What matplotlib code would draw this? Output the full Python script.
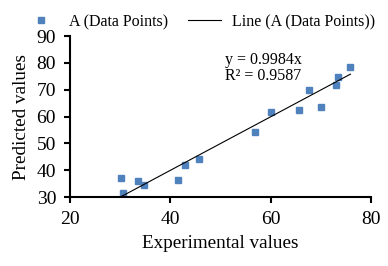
import numpy as np
import matplotlib.pyplot as plt

# values
experimental = [30.2, 30.6, 33.6, 34.8, 41.6, 43.0, 45.8, 56.9, 60.1, 65.7, 67.7, 70.1, 73.1, 73.5, 75.9]
predicted = [37.2, 31.6, 36.1, 34.3, 36.5, 42.0, 44.3, 54.3, 61.8, 62.5, 70.0, 63.7, 71.9, 74.8, 78.6]
slope = 0.9984
r_squared = 0.9587
x_ticks = [20, 40, 60, 80]
y_ticks = [30, 40, 50, 60, 70, 80, 90]

plt.rcParams['font.family'] = ['Liberation Serif', 'DejaVu Serif']

fig = plt.figure(figsize=(3.88, 2.66), dpi=100)
ax = fig.add_axes([70 / 388, 1 - 197 / 266, 301 / 388, 161 / 266])

x = np.array(experimental)
ax.plot(x, predicted, 's', color='#4F81BD', markersize=3.8, label='A (Data Points)')
xl = np.array([x.min(), x.max()])
ax.plot(xl, slope * xl, '-', color='black', linewidth=0.8, label='Line (A (Data Points))')

ax.text(50.8, 84.2, f'y = {slope}x\nR\u00b2 = {r_squared}', fontsize=11.5,
        va='top', ha='left', linespacing=1.0)

ax.set_xlim(20, 80)
ax.set_ylim(30, 90)
ax.set_xticks(x_ticks)
ax.set_yticks(y_ticks)
for s in ['top', 'right']:
    ax.spines[s].set_visible(False)
for s in ['left', 'bottom']:
    ax.spines[s].set_linewidth(1.5)
ax.tick_params(direction='out', length=4, width=1.5, labelsize=14)
ax.tick_params(axis='y', pad=6)
ax.tick_params(axis='x', pad=6)

ax.set_xlabel('Experimental values', fontsize=13.8, labelpad=5)
ax.set_ylabel('Predicted values', fontsize=13.8, labelpad=5)

fig.legend(loc='center', bbox_to_anchor=(200 / 388, 1 - 22 / 266), ncol=2,
           frameon=False, fontsize=11.5, handlelength=2.1, handletextpad=0.7,
           columnspacing=1.2, borderpad=0)

fig.savefig('out.png', dpi=100)
